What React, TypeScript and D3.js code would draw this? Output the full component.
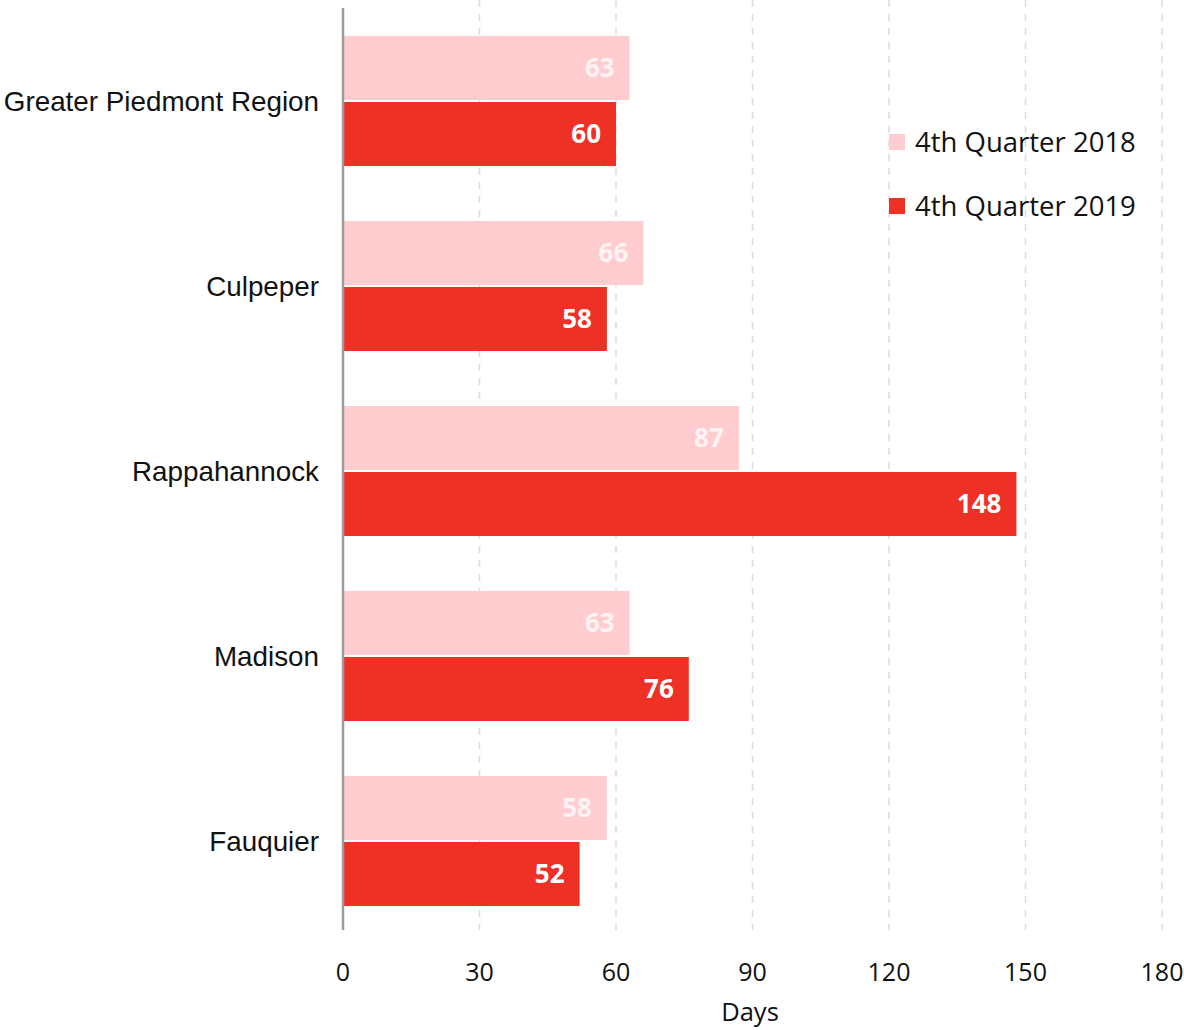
import React from "react";
import * as d3 from "d3";

const categories = ["Greater Piedmont Region", "Culpeper", "Rappahannock", "Madison", "Fauquier"];
const series = ["4th Quarter 2018", "4th Quarter 2019"];
const values2018 = [63, 66, 87, 63, 58];
const values2019 = [60, 58, 148, 76, 52];
const ticks = [0, 30, 60, 90, 120, 150, 180];
const colors = ["#FFCCD0", "#EE3124"];
const labelColors = ["#FFF3F3", "#FFFFFF"];

export default function App() {
  const W = 1184, H = 1030;
  const x = d3.scaleLinear().domain([0, 180]).range([343, 1162]);
  const y = d3.scaleBand<string>().domain(categories).range([8.5, 933.5]).padding(0);
  const inner = d3.scaleBand<string>().domain(series).range([0, 130]).paddingInner(0.03);
  const data = [values2018, values2019];
  const tickFont = "'Open Sans', 'Noto Sans', sans-serif";
  const catFont = "'Liberation Sans', Arial, sans-serif";
  return (
    <svg width={W} height={H} style={{ position: "absolute", left: 0, top: 0, background: "#fff" }}>
      {ticks.filter(t => t > 0).map(t => (
        <line key={"g" + t} x1={x(t)} x2={x(t)} y1={0} y2={930} stroke="#dcdcdc" strokeWidth={1.5} strokeDasharray="7,7" />
      ))}
      {categories.map((c, i) => {
        const c0 = (y(c) as number) + y.bandwidth() / 2 - 65;
        return (
          <g key={c}>
            {series.map((s, k) => {
              const v = data[k][i];
              const by = c0 + (inner(s) as number);
              const bh = inner.bandwidth();
              return (
                <g key={s}>
                  <rect x={x(0)} y={by} width={x(v) - x(0)} height={bh} fill={colors[k]} />
                  <text x={x(v) - 15} y={by + bh / 2} dy="0.35em" textAnchor="end" fill={labelColors[k]}
                    fontFamily={tickFont} fontWeight="bold" fontSize={26}>{v}</text>
                </g>
              );
            })}
            <text x={319} y={(y(c) as number) + y.bandwidth() / 2} dy="0.35em" textAnchor="end"
              fontFamily={catFont} fontSize={27.8} fill="#111">{c}</text>
          </g>
        );
      })}
      <line x1={x(0)} x2={x(0)} y1={8} y2={930} stroke="#9a9a9a" strokeWidth={2.5} />
      {ticks.map(t => (
        <text key={"t" + t} x={x(t)} y={981} textAnchor="middle" fontFamily={tickFont} fontSize={25} fill="#111">{t}</text>
      ))}
      <text x={750} y={1021} textAnchor="middle" fontFamily={tickFont} fontSize={25.5} fill="#111">Days</text>
      {series.map((s, k) => (
        <g key={"l" + s} transform={`translate(889, ${134 + k * 64})`}>
          <rect x={0} y={0} width={16} height={16} fill={colors[k]} />
          <text x={26} y={8} dy="0.35em" fontFamily={tickFont} fontSize={27.5} fill="#111">{s}</text>
        </g>
      ))}
    </svg>
  );
}
